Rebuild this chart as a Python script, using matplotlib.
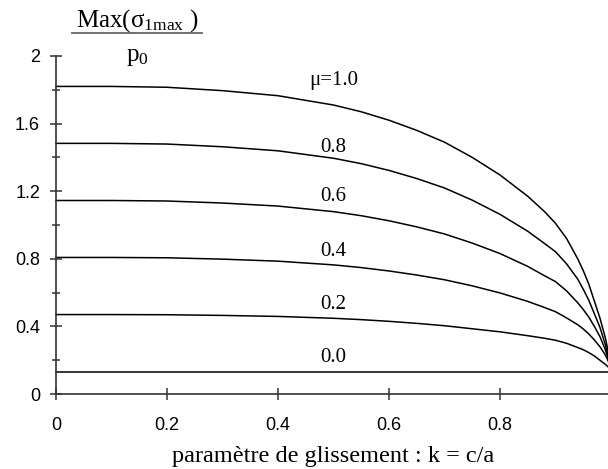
import matplotlib
matplotlib.use("Agg")
import matplotlib.pyplot as plt
from matplotlib.lines import Line2D
from matplotlib.ticker import FixedLocator

# ---- data ----
k = [0, 0.1, 0.2, 0.3, 0.4, 0.5, 0.55, 0.6, 0.65, 0.7, 0.75, 0.8, 0.85, 0.88, 0.9,
     0.92, 0.94, 0.95, 0.96, 0.97, 0.98, 0.99, 0.995, 1.0]
mu_10 = [1.82, 1.82, 1.815, 1.795, 1.765, 1.71, 1.67, 1.62, 1.56, 1.49, 1.40, 1.296, 1.17, 1.08, 1.01,
         0.92, 0.80, 0.73, 0.65, 0.55, 0.45, 0.33, 0.25, 0.14]
mu_08 = [1.483, 1.483, 1.479, 1.463, 1.439, 1.395, 1.363, 1.323, 1.275, 1.219, 1.147, 1.063, 0.963, 0.891, 0.842,
         0.77, 0.68, 0.62, 0.555, 0.475, 0.395, 0.29, 0.22, 0.14]
mu_06 = [1.145, 1.145, 1.142, 1.13, 1.112, 1.079, 1.055, 1.025, 0.989, 0.947, 0.893, 0.831, 0.755, 0.70, 0.665,
         0.61, 0.54, 0.50, 0.455, 0.40, 0.34, 0.26, 0.21, 0.14]
mu_04 = [0.808, 0.808, 0.806, 0.798, 0.786, 0.764, 0.748, 0.728, 0.704, 0.676, 0.64, 0.598, 0.548, 0.512, 0.487,
         0.45, 0.41, 0.385, 0.355, 0.32, 0.28, 0.23, 0.195, 0.14]
mu_02 = [0.47, 0.47, 0.469, 0.465, 0.459, 0.448, 0.44, 0.43, 0.418, 0.404, 0.386, 0.368, 0.345, 0.33, 0.318,
         0.30, 0.275, 0.262, 0.245, 0.225, 0.20, 0.175, 0.16, 0.14]
k_00 = [0, 1.0]
mu_00 = [0.133, 0.133]

curve_labels = ["\u03bc=1.0", "0.8", "0.6", "0.4", "0.2", "0.0"]
label_x = [0.50, 0.50, 0.50, 0.50, 0.50, 0.50]
label_y = [1.855, 1.46, 1.167, 0.842, 0.527, 0.215]

x_ticks = [0, 0.2, 0.4, 0.6, 0.8]
x_ticklabels = ["0", "0.2", "0.4", "0.6", "0.8"]
y_ticks = [0, 0.4, 0.8, 1.2, 1.6, 2.0]
y_ticklabels = ["0", "0.4", "0.8", "1.2", "1.6", "2"]
y_minor = [0.2, 0.6, 1.0, 1.4, 1.8]

xlabel = "paramètre de glissement : k = c/a"

# ---- figure ----
W, H = 608, 469
fig = plt.figure(figsize=(W / 100, H / 100), dpi=100)
left, right_px = 56, 611
bottom_px, top_px = 394, 56
ax = fig.add_axes([left / W, (H - bottom_px) / H, (right_px - left) / W, (bottom_px - top_px) / H])
ax.set_xlim(0, 1)
ax.set_ylim(0, 2)

for ys in [mu_10, mu_08, mu_06, mu_04, mu_02]:
    ax.plot(k, ys, color="black", lw=1.1, clip_on=False)
ax.plot(k_00, mu_00, color="black", lw=1.1, clip_on=False)

serif = ["Liberation Serif", "DejaVu Serif"]
sans = ["Liberation Sans", "DejaVu Sans"]
for t, lx, ly in zip(curve_labels, label_x, label_y):
    ax.text(lx, ly, t, ha="center", va="center", fontsize=15, family=serif)

for s in ["top", "right"]:
    ax.spines[s].set_visible(False)
for s in ["left", "bottom"]:
    ax.spines[s].set_color("#333333")
    ax.spines[s].set_linewidth(1.2)

ax.set_xticks(x_ticks)
ax.set_xticklabels(x_ticklabels, family=sans, fontsize=13)
ax.set_yticks(y_ticks)
ax.set_yticklabels(y_ticklabels, family=sans, fontsize=13)
ax.yaxis.set_minor_locator(FixedLocator(y_minor))
ax.tick_params(axis="both", which="major", direction="inout", length=9, width=1.1, color="#333333", pad=7)
ax.tick_params(axis="y", which="minor", direction="inout", length=5.5, width=1.1, color="#333333")
ax.tick_params(axis="x", which="major", pad=12)

ax.set_xlabel(xlabel, family=serif, fontsize=17.5, labelpad=9)

# y label as a fraction at the top left
fig.text(137 / W, 1 - 21 / H, r"Max($\mathregular{\sigma_{1max}}$ )", ha="center", va="center",
         fontsize=18, family=serif)
fig.text(137 / W, 1 - 57 / H, r"$\mathregular{p_0}$", ha="center", va="center",
         fontsize=18, family=serif)
fig.add_artist(Line2D([72 / W, 202 / W], [1 - 33 / H, 1 - 33 / H], color="#666666", lw=1.3,
                      transform=fig.transFigure))

fig.savefig("out.png", dpi=100)
